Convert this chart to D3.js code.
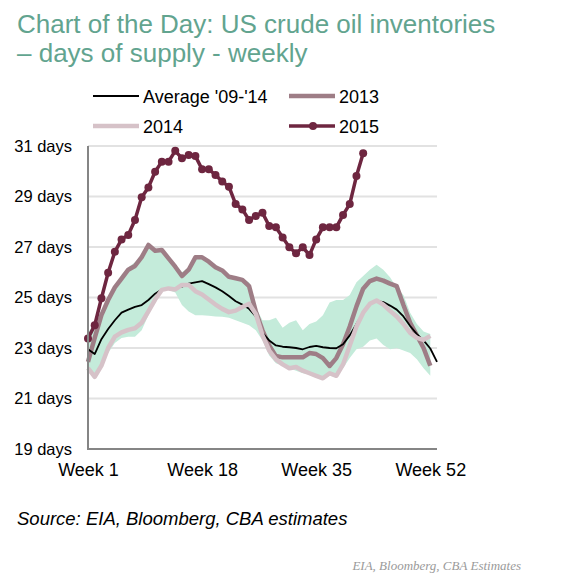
<!doctype html>
<meta charset="utf-8">
<title>US crude oil inventories</title>
<script src="https://cdn.jsdelivr.net/npm/d3@7"></script>
<style>
  body { margin: 0; background: #fff; }
  text { font-family: "Liberation Sans", Arial, sans-serif; }
</style>
<body>
<div id="chart"></div>
<script>

// values, days of supply by week
var avg0914 = [22.95, 22.76, 23.35, 23.75, 24.1, 24.4, 24.52, 24.63, 24.7, 24.9,
  25.15, 25.32, 25.36, 25.36, 25.43, 25.55, 25.6, 25.65, 25.53, 25.4,
  25.25, 25.06, 24.85, 24.72, 24.55, 24.25, 23.6, 23.3, 23.1, 23.05,
  23.03, 23.0, 22.95, 23.04, 23.08, 23.03, 23.0, 22.99, 23.15, 23.5,
  23.95, 24.4, 24.75, 24.87, 24.82, 24.68, 24.52, 24.25, 23.87, 23.55,
  23.3, 22.98, 22.45];

var y2013 = [22.45, 23.4, 24.3, 24.9, 25.4, 25.75, 26.1, 26.25, 26.6, 27.08,
  26.85, 26.88, 26.55, 26.22, 25.85, 26.1, 26.59, 26.59, 26.42, 26.2,
  26.07, 25.82, 25.76, 25.7, 25.45, 24.45, 23.7, 23.1, 22.68, 22.63,
  22.63, 22.63, 22.63, 22.8, 22.76, 22.6, 22.29, 22.6, 23.15, 23.85,
  24.65, 25.35, 25.65, 25.75, 25.67, 25.55, 25.45, 24.7, 24.0, 23.5,
  23.0, 22.3];

var y2014 = [22.2, 21.86, 22.3, 23.0, 23.45, 23.62, 23.72, 23.78, 24.0, 24.45,
  24.92, 25.3, 25.36, 25.32, 25.5, 25.5, 25.25, 25.12, 24.92, 24.72,
  24.55, 24.42, 24.48, 24.62, 24.75, 24.35, 23.5, 22.9, 22.55, 22.35,
  22.2, 22.25, 22.1, 22.0, 21.9, 21.8, 22.0, 21.9, 22.35, 23.1,
  23.85, 24.4, 24.75, 24.88, 24.72, 24.47, 24.25, 23.95, 23.6, 23.4,
  23.32, 23.48];

var y2015 = [23.38, 23.9, 24.97, 25.98, 26.81, 27.3, 27.48, 28.07, 28.97, 29.36,
  29.98, 30.38, 30.38, 30.81, 30.51, 30.64, 30.6, 30.08, 30.08, 29.85,
  29.59, 29.39, 28.7, 28.49, 28.07, 28.23, 28.36, 27.83, 27.78, 27.38,
  26.99, 26.75, 26.99, 26.68, 27.3, 27.78, 27.78, 27.78, 28.27, 28.7,
  29.81, 30.71];

// shaded range '09-'14
var rangeHigh = [23.6, 24.0, 24.5, 25.0, 25.5, 25.9, 26.2, 26.4, 26.7, 27.1,
  26.9, 26.9, 26.6, 26.3, 26.0, 26.2, 26.6, 26.6, 26.45, 26.25,
  26.1, 25.85, 25.8, 25.75, 25.6, 24.6, 24.1, 24.1, 24.2, 23.8,
  24.0, 24.1, 23.7, 23.95, 24.05, 24.3, 24.8, 24.9, 24.9, 25.1,
  25.6, 25.85, 26.1, 26.3, 26.1, 25.8, 25.4, 25.1, 24.4, 23.95,
  23.65, 23.55];

var rangeLow = [22.2, 21.8, 22.2, 22.8, 23.2, 23.4, 23.45, 23.45, 23.7, 24.3,
  24.9, 25.25, 25.3, 25.2, 24.7, 24.45, 24.3, 24.3, 24.28, 24.25,
  24.24, 24.2, 24.1, 24.0, 23.9, 23.7, 23.3, 22.7, 22.4, 22.3,
  22.2, 22.1, 22.0, 21.95, 21.87, 21.78, 21.9, 21.85, 22.2, 22.6,
  22.95, 23.05, 23.3, 23.38, 23.12, 22.95, 23.0, 22.9, 22.8, 22.55,
  22.2, 21.9];

var weekTicks = [1, 18, 35, 52];
var dayTicks = [19, 21, 23, 25, 27, 29, 31];

var legendNames = ["Average '09-'14", "2013", "2014", "2015"];

var W = 580, H = 581;
var col = { avg: '#000000', y13: '#9e7d86', y14: '#d6c2c8', y15: '#6e2640', band: '#c4ebda' };

var svg = d3.select('#chart').append('svg')
  .attr('width', W)
  .attr('height', H);

var x = d3.scaleLinear().domain([1, 53]).range([88, 437]);
var y = d3.scaleLinear().domain([19, 31]).range([449, 146]);

function pts(arr) {
  return arr.map(function(v, i) { return { w: i + 1, v: v }; });
}

// title
var title = svg.append('g').attr('fill', '#62a48f').style('font-size', '26px');
title.append('text').attr('x', 17).attr('y', 33).text('Chart of the Day: US crude oil inventories');
title.append('text').attr('x', 17).attr('y', 62).text('\u2013 days of supply - weekly');

// gridlines
svg.append('g').selectAll('line.grid')
  .data(dayTicks.filter(function(d) { return d > 19; }))
  .enter().append('line')
  .attr('x1', x(1)).attr('x2', x(53))
  .attr('y1', function(d) { return y(d); })
  .attr('y2', function(d) { return y(d); })
  .style('stroke', '#e2e2e2')
  .style('stroke-width', 2);

// band
var bandData = rangeHigh.map(function(h, i) { return { w: i + 1, hi: h, lo: rangeLow[i] }; });
svg.append('path')
  .datum(bandData)
  .attr('d', d3.area()
    .x(function(d) { return x(d.w); })
    .y0(function(d) { return y(d.lo); })
    .y1(function(d) { return y(d.hi); }))
  .style('fill', col.band)
  .style('stroke', 'none');

var line = d3.line()
  .x(function(d) { return x(d.w); })
  .y(function(d) { return y(d.v); });

function drawLine(arr, color, width) {
  svg.append('path')
    .datum(pts(arr))
    .attr('d', line)
    .style('fill', 'none')
    .style('stroke', color)
    .style('stroke-width', width)
    .style('stroke-linejoin', 'round');
}

drawLine(y2013, col.y13, 4.5);
drawLine(avg0914, col.avg, 1.8);
drawLine(y2014, col.y14, 4.5);
drawLine(y2015, col.y15, 3.5);

svg.append('g').selectAll('circle.m15')
  .data(pts(y2015))
  .enter().append('circle')
  .attr('cx', function(d) { return x(d.w); })
  .attr('cy', function(d) { return y(d.v); })
  .attr('r', 4)
  .style('fill', col.y15);

// axes
var yAxis = svg.append('g')
  .attr('transform', 'translate(' + x(1) + ',0)')
  .call(d3.axisLeft(y).tickValues(dayTicks).tickSize(0).tickPadding(16)
    .tickFormat(function(d) { return d + ' days'; }));
yAxis.select('.domain').remove();
yAxis.selectAll('text').style('font-size', '16.5px').attr('fill', '#000');

var xAxis = svg.append('g')
  .attr('transform', 'translate(0,' + y(19) + ')')
  .call(d3.axisBottom(x).tickValues(weekTicks).tickSize(0).tickPadding(14)
    .tickFormat(function(d) { return 'Week ' + d; }));
xAxis.select('.domain').remove();
xAxis.selectAll('text').style('font-size', '18px').attr('fill', '#000');

svg.append('line')
  .attr('x1', x(1)).attr('x2', x(1))
  .attr('y1', y(31)).attr('y2', y(19))
  .style('stroke', '#858585').style('stroke-width', 2);
svg.append('line')
  .attr('x1', x(1) - 1).attr('x2', x(53))
  .attr('y1', y(19)).attr('y2', y(19))
  .style('stroke', '#858585').style('stroke-width', 2);

// legend
var legendItems = [
  { name: legendNames[0], color: col.avg, width: 1.8, lx: 93, ly: 96, marker: false },
  { name: legendNames[1], color: col.y13, width: 4.5, lx: 289, ly: 96, marker: false },
  { name: legendNames[2], color: col.y14, width: 4.5, lx: 93, ly: 126, marker: false },
  { name: legendNames[3], color: col.y15, width: 3.5, lx: 289, ly: 126, marker: true }
];
var lg = svg.append('g').selectAll('g.leg')
  .data(legendItems)
  .enter().append('g')
  .attr('transform', function(d) { return 'translate(' + d.lx + ',' + d.ly + ')'; });
lg.append('line')
  .attr('x1', 0).attr('x2', 46)
  .style('stroke', function(d) { return d.color; })
  .style('stroke-width', function(d) { return d.width; });
lg.filter(function(d) { return d.marker; }).append('circle')
  .attr('cx', 24).attr('r', 4)
  .style('fill', function(d) { return d.color; });
lg.append('text')
  .attr('x', 50).attr('y', 7)
  .style('font-size', '18px')
  .text(function(d) { return d.name; });

// source notes
svg.append('text')
  .attr('x', 17).attr('y', 525)
  .style('font-size', '18.5px')
  .style('font-style', 'italic')
  .text('Source: EIA, Bloomberg, CBA estimates');

svg.append('text')
  .attr('x', 521).attr('y', 570)
  .attr('text-anchor', 'end')
  .style('font-family', '"Liberation Serif", "DejaVu Serif", serif')
  .style('font-size', '13px')
  .style('font-style', 'italic')
  .attr('fill', '#9a9a9a')
  .text('EIA, Bloomberg, CBA Estimates');

</script>
</body>
